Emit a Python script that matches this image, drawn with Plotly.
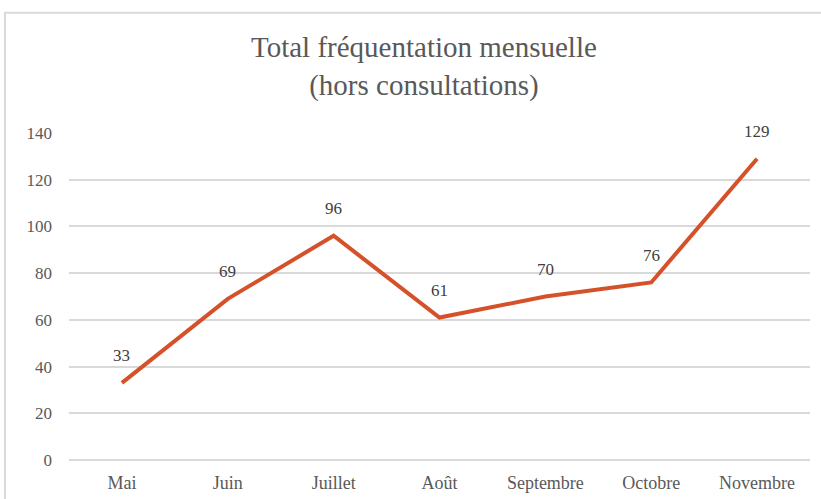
import plotly.graph_objects as go

# Monthly attendance, excluding consultations
months = ["Mai", "Juin", "Juillet", "Août", "Septembre", "Octobre", "Novembre"]
visits = [33, 69, 96, 61, 70, 76, 129]
y_ticks = [0, 20, 40, 60, 80, 100, 120, 140]

LINE = "#D5512A"
GRID = "#D9D9D9"
FONT = "Liberation Serif"

fig = go.Figure()
fig.add_trace(go.Scatter(
    x=months, y=visits, mode="lines",
    line=dict(color=LINE, width=4),
    hoverinfo="x+y", showlegend=False,
))

# value labels above each point
for m, v in zip(months, visits):
    fig.add_annotation(x=m, y=v, text=str(v), showarrow=False,
                       yshift=27, font=dict(family=FONT, size=17, color="#404040"))

# chart-area border (the original is cropped on the right and bottom)
fig.add_shape(type="rect", xref="paper", yref="paper",
              x0=-0.0864, x1=1.1, y0=-0.3, y1=1.368,
              line=dict(color=GRID, width=2), layer="below")

fig.update_layout(
    width=821, height=499,
    margin=dict(l=69, r=11, t=133, b=39),
    paper_bgcolor="white", plot_bgcolor="white",
    font=dict(family=FONT, size=17, color="#595959"),
    title=dict(text="Total fréquentation mensuelle<br>(hors consultations)",
               x=0.479, xref="paper", xanchor="center",
               y=0.885, yanchor="middle",
               font=dict(family=FONT, size=29, color="#595959")),
)
fig.update_xaxes(range=[-0.5, 6.5], showgrid=False, showline=False,
                 zeroline=False, ticks="", ticklabelstandoff=10,
                 tickfont=dict(size=18), automargin=False)
fig.update_yaxes(range=[0, 140], tickvals=y_ticks, showgrid=True,
                 gridcolor=GRID, gridwidth=1.5, zeroline=True,
                 zerolinecolor=GRID, zerolinewidth=1.5, showline=False,
                 ticks="", ticklabelstandoff=16, automargin=False)

# drop the page's default body margin so the figure sits at the window origin
fig.write_html("out.html", config={"displayModeBar": False},
               post_script="document.body.style.margin='0';")
